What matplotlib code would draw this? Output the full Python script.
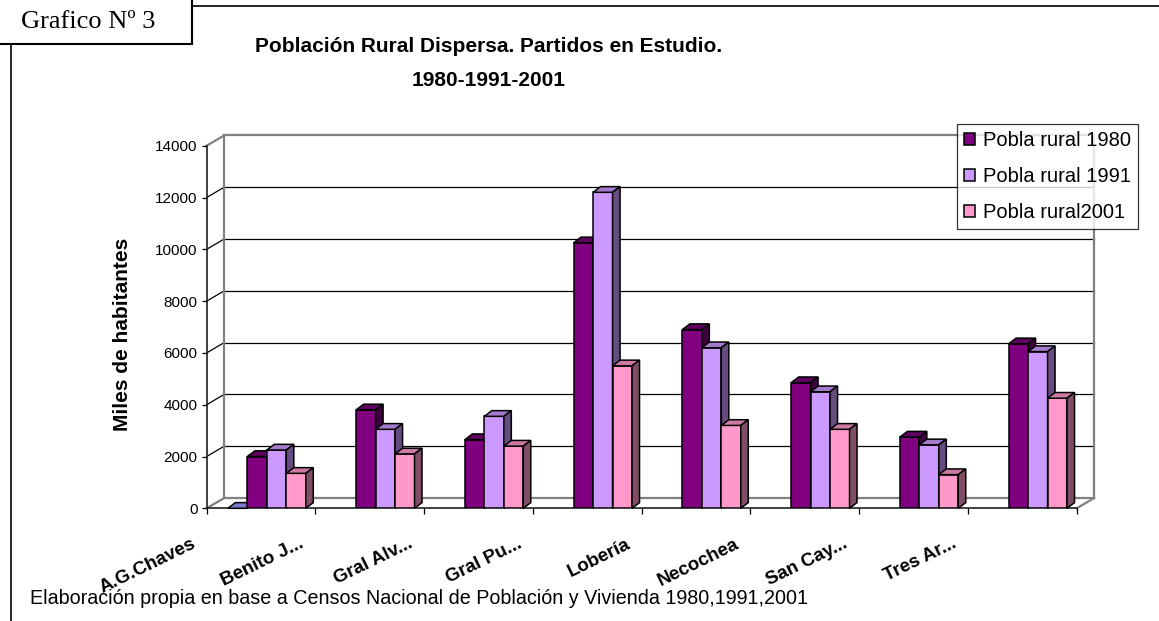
import matplotlib
matplotlib.use("Agg")
import matplotlib.pyplot as plt
from matplotlib.patches import Polygon, Rectangle
from matplotlib.lines import Line2D
from matplotlib.transforms import ScaledTranslation

# datos
partidos = ["A.G.Chaves", "Benito J...", "Gral Alv...", "Gral Pu...",
            "Lobería", "Necochea", "San Cay...", "Tres Ar..."]
pobla_1980 = [2000, 3800, 2650, 10250, 6900, 4850, 2750, 6350]
pobla_1991 = [2250, 3050, 3550, 12200, 6200, 4500, 2450, 6050]
pobla_2001 = [1350, 2100, 2400, 5500, 3200, 3050, 1300, 4250]
serie_vacia = [0, None, None, None, None, None, None, None]
nombres = ["Pobla rural 1980", "Pobla rural 1991", "Pobla rural2001"]
y_ticks = [0, 2000, 4000, 6000, 8000, 10000, 12000, 14000]

# colores: frente, arriba, costado
colores = [
    ("#9999FF", "#7A7ACC", "#4D4D80"),
    ("#800080", "#600060", "#400040"),
    ("#CC99FF", "#A37ACC", "#664D80"),
    ("#FF99CC", "#CC7AA3", "#804D66"),
]

plt.rcParams['font.family'] = ['Liberation Sans', 'DejaVu Sans']

W, H = 1159, 621
fig = plt.figure(figsize=(W / 100, H / 100), dpi=100)


def fx(px):
    return px / W


def fy(py):
    return 1 - py / H


# plano frontal del grafico
ax_l, ax_r, ax_b, ax_t = 206.7, 1076.7, 508.3, 145.7
ax = fig.add_axes([fx(ax_l), fy(ax_b), (ax_r - ax_l) / W, (ax_b - ax_t) / H])
ax.set_xlim(0, 8)
ax.set_ylim(0, 14000)
ax.patch.set_visible(False)
for s in ax.spines.values():
    s.set_visible(False)

ux = (ax_r - ax_l) / 8
uy = (ax_b - ax_t) / 14000
# profundidad de las paredes y de las barras (en unidades de datos)
wdx, wdy = 17.5 / ux, 10.3 / uy
bdx, bdy = 7.5 / ux, 5.7 / uy

gris = "#808080"


def linea(xs, ys, color, lw, z=1):
    ax.add_line(Line2D(xs, ys, color=color, lw=lw, clip_on=False, zorder=z))


# lineas de division (pared del fondo y pared lateral)
for v in y_ticks[1:-1]:
    linea([wdx, 8 + wdx], [v + wdy, v + wdy], "black", 0.9)
    linea([0, wdx], [v, v + wdy], "black", 0.9)
# bordes de paredes y piso
linea([wdx, 8 + wdx], [14000 + wdy, 14000 + wdy], gris, 1.6)
linea([0, wdx], [14000, 14000 + wdy], gris, 1.6)
linea([wdx, wdx], [wdy, 14000 + wdy], gris, 1.6)
linea([8 + wdx, 8 + wdx], [wdy, 14000 + wdy], gris, 1.6)
linea([wdx, 8 + wdx], [wdy, wdy], gris, 1.6)
linea([0, wdx], [0, wdy], gris, 1.6)
linea([8, 8 + wdx], [0, wdy], gris, 1.6)
linea([0, 0], [0, 14000], "#202020", 1.2, 2)
linea([0, 8], [0, 0], "#202020", 1.2, 2)

# barras con efecto 3D
series = [serie_vacia, pobla_1980, pobla_1991, pobla_2001]
ancho = 0.179
inicio = 0.195
handles = []
for k, valores in enumerate(series):
    frente, arriba, costado = colores[k]
    xs = [g + inicio + k * ancho for g in range(len(partidos))]
    alturas = [v if v is not None else float("nan") for v in valores]
    barras = ax.bar(xs, alturas, width=ancho, align="edge", color=frente,
                    edgecolor="black", linewidth=1.1, zorder=3 + k,
                    label=nombres[k - 1] if k > 0 else "_nolegend_")
    if k > 0:
        handles.append(barras)
    for x0, v in zip(xs, valores):
        if v is None:
            continue
        x1 = x0 + ancho
        top = Polygon([(x0, v), (x1, v), (x1 + bdx, v + bdy), (x0 + bdx, v + bdy)],
                      closed=True, facecolor=arriba, edgecolor="black",
                      linewidth=1.1, zorder=3 + k, clip_on=False)
        ax.add_patch(top)
        if v > 0:
            lado = Polygon([(x1, 0), (x1 + bdx, bdy), (x1 + bdx, v + bdy), (x1, v)],
                           closed=True, facecolor=costado, edgecolor="black",
                           linewidth=1.1, zorder=3 + k, clip_on=False)
            ax.add_patch(lado)

# ejes
ax.set_yticks(y_ticks)
ax.set_yticklabels([str(v) for v in y_ticks])
ax.set_xticks(range(9))
ax.set_xticklabels([])
ax.tick_params(axis="y", direction="out", length=3.6, width=0.9, pad=3,
               labelsize=11, colors="black")
ax.tick_params(axis="x", direction="out", length=4.5, width=0.9)

off = ScaledTranslation(-0.63, -0.27, fig.dpi_scale_trans)
for g, nombre in enumerate(partidos):
    ax.text(g + 0.5, 0, nombre, transform=ax.transData + off, rotation=26,
            ha="right", va="top", fontsize=13.5, fontweight="bold")

# titulos y textos
fig.text(fx(489), fy(47), "Población Rural Dispersa. Partidos en Estudio.",
         ha="center", va="center", fontsize=15, fontweight="bold")
fig.text(fx(489), fy(80), "1980-1991-2001",
         ha="center", va="center", fontsize=15, fontweight="bold")
fig.text(fx(123), fy(334), "Miles de habitantes", rotation=90,
         ha="center", va="center", fontsize=15, fontweight="bold")
fig.text(fx(30), fy(598),
         "Elaboración propia en base a Censos Nacional de Población y Vivienda 1980,1991,2001",
         ha="left", va="center", fontsize=14.2)

# leyenda
leg = fig.legend(handles=handles, labels=nombres, loc="upper right",
                 bbox_to_anchor=(fx(1138), fy(124)), fontsize=14.5,
                 frameon=True, fancybox=False, edgecolor="black",
                 handlelength=0.55, handleheight=0.55, handletextpad=0.4,
                 labelspacing=0.85, borderpad=0.35, borderaxespad=0)
leg.get_frame().set_linewidth(0.9)

# marco de la pagina y recuadro del numero de grafico
fig.add_artist(Line2D([fx(193), fx(W)], [fy(6), fy(6)], color="black", lw=1.2,
                      transform=fig.transFigure))
fig.add_artist(Line2D([fx(10.5), fx(10.5)], [fy(44), fy(H)], color="black", lw=1.2,
                      transform=fig.transFigure))
fig.add_artist(Rectangle((fx(-3), fy(44)), fx(195), 44 / H + 0.01,
                         transform=fig.transFigure, facecolor="white",
                         edgecolor="black", linewidth=1.5))
fig.text(fx(21), fy(22), "Grafico Nº 3", ha="left", va="center", fontsize=19,
         family=["Liberation Serif", "DejaVu Serif"])

fig.savefig("out.png", dpi=100)
